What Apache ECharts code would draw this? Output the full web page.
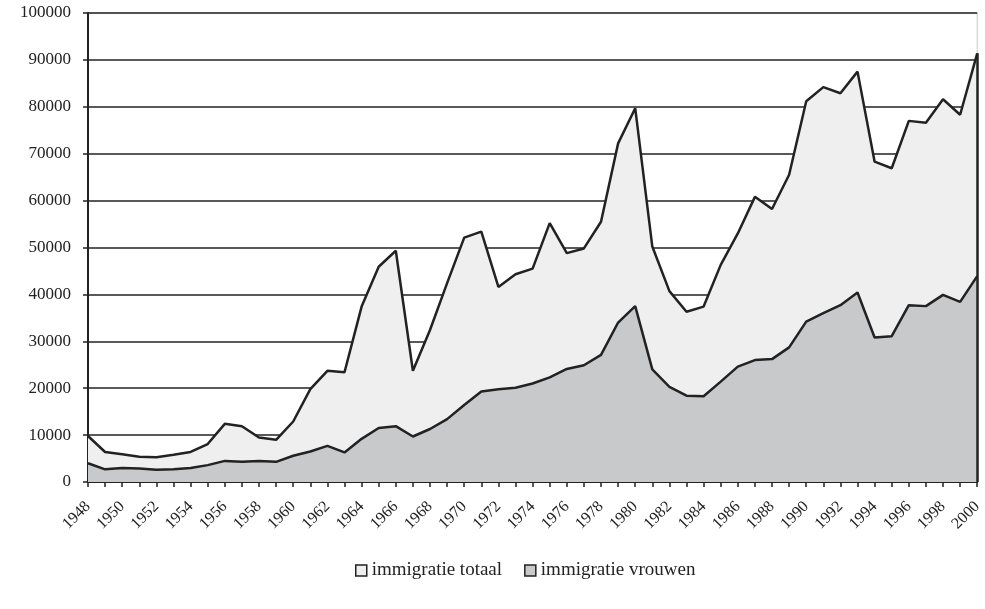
<!DOCTYPE html>
<html>
<head>
<meta charset="utf-8">
<script src="https://cdn.jsdelivr.net/npm/echarts@6/dist/echarts.min.js"></script>
<style>
  html, body { margin: 0; padding: 0; background: #fff; }
  #chart { width: 985px; height: 609px; }
</style>
</head>
<body>
<div id="chart"></div>
<script>
// jaartallen 1948-2000
var years = [];
for (var y = 1948; y <= 2000; y++) years.push(String(y));

var totaal = [9800, 6400, 5900, 5400, 5300, 5800, 6400, 8100, 12400, 11900,
  9500, 9000, 12900, 19800, 23700, 23400, 37400, 45900, 49300, 23700,
  32400, 42400, 52100, 53400, 41600, 44300, 45500, 55200, 48800, 49800,
  55500, 72200, 79700, 50200, 40700, 36300, 37400, 46300, 53000, 60800,
  58200, 65500, 81200, 84200, 82900, 87500, 68300, 66900, 77000, 76600,
  81600, 78300, 91400];

var vrouwen = [4000, 2700, 3000, 2900, 2600, 2700, 3000, 3600, 4500, 4300,
  4500, 4300, 5600, 6500, 7700, 6300, 9200, 11500, 11900, 9700,
  11300, 13400, 16400, 19300, 19800, 20100, 21000, 22300, 24100, 24900,
  27100, 34000, 37500, 24000, 20300, 18400, 18300, 21400, 24600, 26000,
  26200, 28700, 34200, 36000, 37700, 40400, 30800, 31100, 37700, 37500,
  39900, 38400, 43900];

var seriesNames = ['immigratie totaal', 'immigratie vrouwen'];

var font = '"Liberation Serif", "DejaVu Serif", serif';
var myChart = echarts.init(document.getElementById('chart'));
var lastYear = years[years.length - 1];

var option = {
  animation: false,
  grid: {
    left: 88, right: 6, top: 13, bottom: 127,
    show: true, borderColor: '#c8c8c8', borderWidth: 1
  },
  legend: {
    top: 556,
    left: 350,
    icon: 'rect',
    itemWidth: 11,
    itemHeight: 11,
    itemGap: 22,
    textStyle: { fontFamily: font, fontSize: 19, color: '#222' },
    data: [
      { name: seriesNames[0], itemStyle: { color: '#efefef', borderColor: '#222', borderWidth: 1.5 } },
      { name: seriesNames[1], itemStyle: { color: '#c8c9cb', borderColor: '#222', borderWidth: 1.5 } }
    ]
  },
  xAxis: {
    type: 'category',
    data: years,
    boundaryGap: false,
    axisLine: { lineStyle: { color: '#222', width: 2 } },
    axisTick: { interval: 0, length: 5, lineStyle: { color: '#222', width: 1.5 } },
    axisLabel: {
      interval: 1, rotate: 45, margin: 22,
      fontFamily: font, fontSize: 16, color: '#222'
    },
    splitLine: { show: false }
  },
  yAxis: {
    type: 'value',
    min: 0, max: 100000, interval: 10000,
    axisLine: { show: true, lineStyle: { color: '#222', width: 2 } },
    axisTick: { show: true, length: 5, lineStyle: { color: '#222', width: 1.5 } },
    axisLabel: {
      fontFamily: font, fontSize: 17, color: '#222', margin: 17,
      formatter: function (v) { return String(v); }
    },
    splitLine: { lineStyle: { color: '#222', width: 1.5 } }
  },
  series: [
    {
      name: seriesNames[0],
      type: 'line',
      data: totaal,
      symbol: 'none',
      lineStyle: { color: '#222', width: 2.5 },
      itemStyle: { color: '#efefef' },
      areaStyle: { color: '#efefef', opacity: 1 },
      markLine: {
        silent: true,
        symbol: 'none',
        label: { show: false },
        lineStyle: { color: '#222', width: 2.5, type: 'solid' },
        data: [[{ coord: [lastYear, 0] }, { coord: [lastYear, totaal[totaal.length - 1]] }]]
      }
    },
    {
      name: seriesNames[1],
      type: 'line',
      data: vrouwen,
      symbol: 'none',
      lineStyle: { color: '#222', width: 2.5 },
      itemStyle: { color: '#c8c9cb' },
      areaStyle: { color: '#c8c9cb', opacity: 1 }
    }
  ]
};

myChart.setOption(option);
</script>
</body>
</html>
